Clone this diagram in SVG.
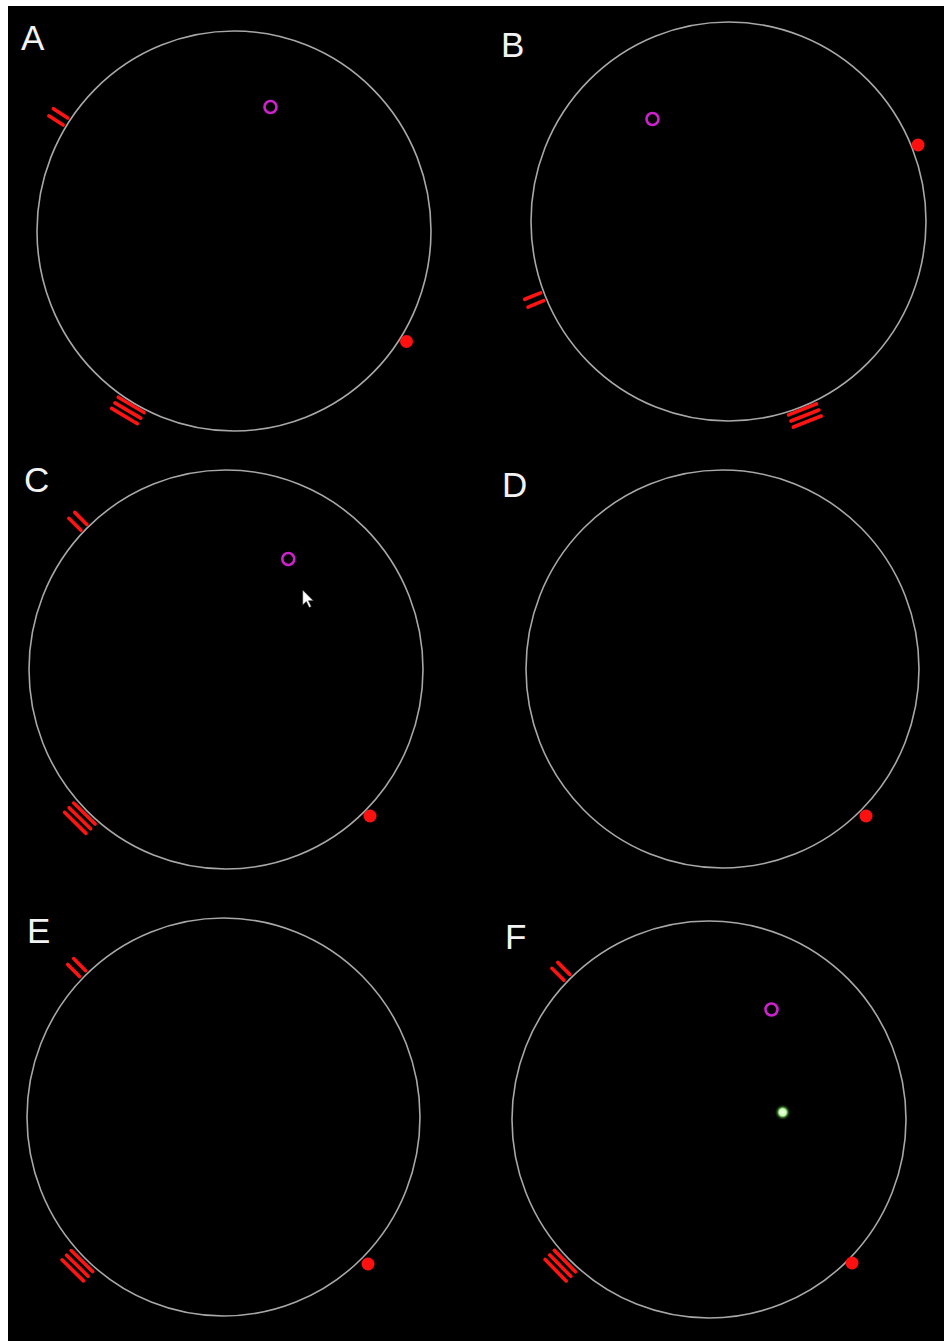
<svg xmlns="http://www.w3.org/2000/svg" width="944" height="1341" viewBox="0 0 944 1341">
<style>
.ring{fill:none;stroke:#a8a8a8;stroke-width:1.6}
.lbl{font-family:"Liberation Sans",Arial,sans-serif;font-size:35px;fill:#f2f2f2}
.tick{stroke:#ff1414;stroke-width:3.6;stroke-linecap:round}
.dot{fill:#ff1010}
.tgt{fill:none;stroke:#cc22cc;stroke-width:2.6}
</style>
<defs>
<g id="dbl"><line class="tick" x1="201" y1="-4.2" x2="218" y2="-4.2"/><line class="tick" x1="201" y1="4.2" x2="218" y2="4.2"/></g>
<g id="tri"><line class="tick" x1="202" y1="-15" x2="202" y2="15"/><line class="tick" x1="208.5" y1="-15" x2="208.5" y2="15"/><line class="tick" x1="215" y1="-15" x2="215" y2="15"/></g>
<radialGradient id="glow"><stop offset="0" stop-color="#f4fff0"/><stop offset="0.45" stop-color="#c8ffb0"/><stop offset="0.7" stop-color="#3a8a2a" stop-opacity="0.6"/><stop offset="1" stop-color="#0a200a" stop-opacity="0"/></radialGradient>
</defs>
<rect width="944" height="1341" fill="#ffffff"/>
<rect x="8" y="6" width="936" height="1335" fill="#000000"/>

<g id="panelA">
<text class="lbl" x="21" y="50">A</text>
<g transform="translate(234,231)">
<ellipse class="ring" rx="197" ry="200"/>
<use href="#dbl" transform="rotate(213)"/>
<use href="#tri" transform="rotate(120.6)"/>
<circle class="dot" cx="172.5" cy="110.5" r="6.5"/>
</g>
<circle class="tgt" cx="270.5" cy="107" r="6"/>
</g>

<g id="panelB">
<text class="lbl" x="501" y="57">B</text>
<g transform="translate(728.5,221.5)">
<ellipse class="ring" rx="197.5" ry="199.5"/>
<use href="#dbl" transform="rotate(158)"/>
<use href="#tri" transform="rotate(68.5)"/>
<circle class="dot" cx="189.5" cy="-76.5" r="6.5"/>
</g>
<circle class="tgt" cx="652.5" cy="119" r="6"/>
</g>

<g id="panelC">
<text class="lbl" x="24" y="492">C</text>
<g transform="translate(226,669.5)">
<ellipse class="ring" rx="197" ry="199.5"/>
<use href="#dbl" transform="rotate(225)"/>
<use href="#tri" transform="rotate(134.5)"/>
<circle class="dot" cx="144" cy="146.5" r="6.5"/>
</g>
<circle class="tgt" cx="288.3" cy="559" r="6"/>
<path d="M302.7,590 L302.7,605 L306.3,601.6 L309.2,607.6 L311.3,606.6 L308.5,600.8 L313.4,600.8 Z" fill="#ffffff" stroke="#202020" stroke-width="0.6"/>
</g>

<g id="panelD">
<text class="lbl" x="502" y="497">D</text>
<g transform="translate(722.5,669)">
<ellipse class="ring" rx="196.5" ry="199"/>
<circle class="dot" cx="143.5" cy="147" r="6.5"/>
</g>
</g>

<g id="panelE">
<text class="lbl" x="27" y="943">E</text>
<g transform="translate(223.5,1117)">
<ellipse class="ring" rx="196.5" ry="199"/>
<use href="#dbl" transform="rotate(225.5)"/>
<use href="#tri" transform="rotate(134.5)"/>
<circle class="dot" cx="144.5" cy="147" r="6.5"/>
</g>
</g>

<g id="panelF">
<text class="lbl" x="505" y="949">F</text>
<g transform="translate(709,1119.5)">
<ellipse class="ring" rx="197" ry="198.5"/>
<use href="#dbl" transform="rotate(225)"/>
<use href="#tri" transform="rotate(135.5)"/>
<circle class="dot" cx="143" cy="143.5" r="6.5"/>
</g>
<circle class="tgt" cx="771.5" cy="1009.5" r="6"/>
<circle cx="782.7" cy="1112.3" r="8" fill="url(#glow)"/>
</g>
</svg>
